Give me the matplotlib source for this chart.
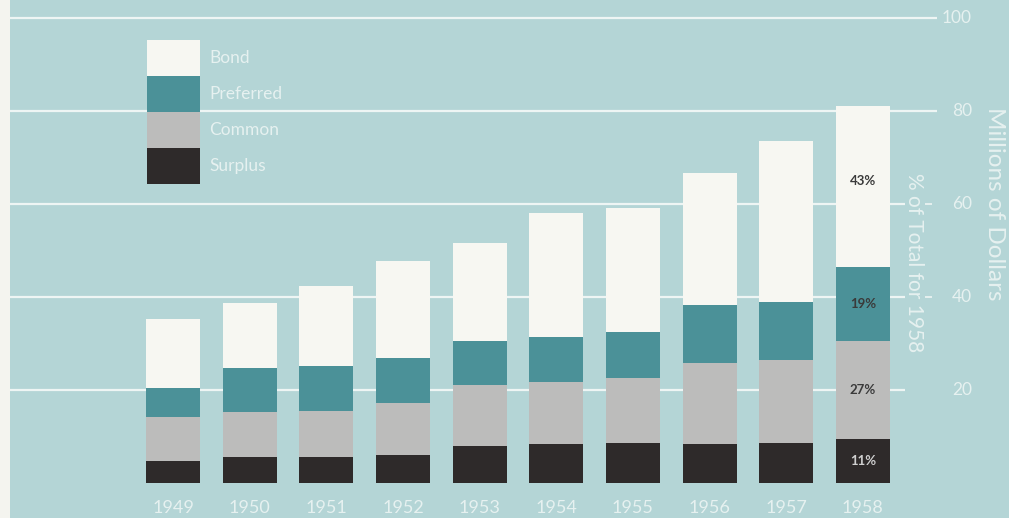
import matplotlib
matplotlib.use("Agg")
import matplotlib.pyplot as plt
from matplotlib.patches import Patch, Rectangle
import numpy as np

# ---- data ----
years = ["1949", "1950", "1951", "1952", "1953", "1954", "1955", "1956", "1957", "1958"]
surplus = [4.8, 5.5, 5.7, 6.0, 8.0, 8.4, 8.7, 8.4, 8.7, 9.5]
common = [9.3, 9.7, 9.8, 11.2, 13.2, 13.4, 13.8, 17.5, 17.8, 21.1]
preferred = [6.4, 9.6, 9.7, 9.8, 9.4, 9.6, 9.9, 12.4, 12.4, 15.9]
bond = [14.7, 14.0, 17.3, 20.8, 21.1, 26.8, 26.8, 28.5, 34.7, 34.6]
series_names = ["Surplus", "Common", "Preferred", "Bond"]
pct_1958 = ["11%", "27%", "19%", "43%"]
y_ticks = [20, 40, 60, 80, 100]

# ---- style ----
BG = "#b4d5d6"
COLORS = {"Surplus": "#2e2a2a", "Common": "#bcbcbb", "Preferred": "#4b9198", "Bond": "#f7f7f2"}
TXT = "#e6f1f0"
LINE = "#eef5f4"
plt.rcParams["font.family"] = ["Lato", "DejaVu Sans"]

W, H = 1009, 518
fig = plt.figure(figsize=(W / 100, H / 100), dpi=100)
fig.patch.set_facecolor(BG)
ax = fig.add_axes([0, 0, 1, 1])
ax.set_facecolor(BG)

# pixel layout -> data mapping
x_c0, x_step = 173.0, 76.65
y_zero, y_unit = 483.0, 4.646
px2x = lambda px: (px - x_c0) / x_step
py2y = lambda py: (y_zero - py) / y_unit
ax.set_xlim(px2x(0), px2x(W))
ax.set_ylim(py2y(H), py2y(0))
ax.axis("off")

# paper edge strip on the left
fig.patches.append(Rectangle((0, 0), 10 / W, 1, transform=fig.transFigure,
                             facecolor="#f4f4ef", edgecolor="none", zorder=0))

# gridlines
for v in y_ticks:
    xend = px2x(937) if v >= 80 else px2x(905)
    ax.hlines(v, px2x(10), xend, color=LINE, lw=1.6, zorder=1)
for v in [40, 60]:
    ax.hlines(v, px2x(925), px2x(932), color=LINE, lw=1.2, zorder=1)

# stacked bars
x = np.arange(len(years))
data = {"Surplus": surplus, "Common": common, "Preferred": preferred, "Bond": bond}
bottom = np.zeros(len(years))
for name in series_names:
    vals = np.array(data[name])
    ax.bar(x, vals, bottom=bottom, width=0.705, color=COLORS[name],
           edgecolor="none", zorder=2, label=name)
    i = len(years) - 1
    ax.text(x[i], bottom[i] + vals[i] / 2 + (1.2 if name == "Bond" else 0),
            pct_1958[series_names.index(name)], ha="center", va="center",
            fontsize=9.5, fontweight="bold",
            color="#d0d0d0" if name == "Surplus" else "#3a3a3a", zorder=3)
    bottom = bottom + vals

# year labels
for xi, yr in zip(x, years):
    ax.text(xi, py2y(508), yr, ha="center", va="center", fontsize=13,
            color=TXT)

# right-side value labels
for v in y_ticks:
    ax.text(px2x(972), v, str(v), ha="right", va="center", fontsize=12.5,
            color=TXT)

ax.text(px2x(994), py2y(204), "Millions of Dollars", rotation=-90,
        ha="center", va="center", fontsize=17.5, color=TXT)
ax.text(px2x(914), py2y(263), "% of Total for 1958", rotation=-90,
        ha="center", va="center", fontsize=15, color=TXT)

# legend
fs = 12.5
fs_px = fs * 100 / 72
hh = (36 / fs_px - 0.245) / 0.65
handles = [Patch(facecolor=COLORS[n], edgecolor="none", label=n)
           for n in reversed(series_names)]
leg = ax.legend(handles=handles, loc="upper left",
                bbox_to_anchor=(147 / W, 1 - 40 / H), frameon=False,
                borderpad=0, borderaxespad=0, labelspacing=0,
                handlelength=53 / fs_px, handleheight=hh,
                handletextpad=0.55, fontsize=fs)
for t in leg.get_texts():
    t.set_color(TXT)

fig.savefig("out.png", dpi=100, facecolor=BG)
